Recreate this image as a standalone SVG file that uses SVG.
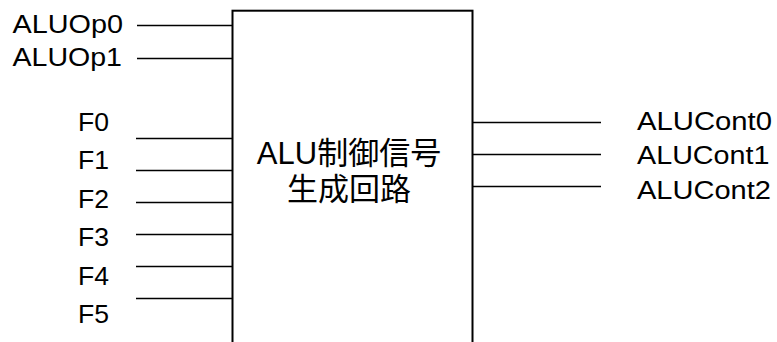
<svg xmlns="http://www.w3.org/2000/svg" width="777" height="342" viewBox="0 0 777 342">
  <style>
    .lbl { font-family: "Liberation Sans", "Noto Sans CJK JP", sans-serif; font-size: 25.5px; fill: #000; }
    .ctr { font-family: "Liberation Sans", "Noto Sans CJK JP", sans-serif; font-size: 31px; fill: #000; text-anchor: middle; }
    .wire { stroke: #000; stroke-width: 1.5; fill: none; }
    .box { stroke: #000; stroke-width: 2; fill: #fff; }
  </style>
  <rect width="777" height="342" fill="#fff"/>
  <g id="alu-control">
    <rect class="box" x="232.5" y="10.7" width="240" height="345"/>
    <text class="ctr" x="349" y="164">ALU制御信号</text>
    <text class="ctr" x="349" y="200">生成回路</text>
  </g>
  <g id="connectors">
    <line class="wire" x1="137" y1="25.5" x2="232.5" y2="25.5"/>
    <line class="wire" x1="137" y1="58.5" x2="232.5" y2="58.5"/>
    <line class="wire" x1="136" y1="138.5" x2="232.5" y2="138.5"/>
    <line class="wire" x1="136" y1="170.5" x2="232.5" y2="170.5"/>
    <line class="wire" x1="136" y1="202.5" x2="232.5" y2="202.5"/>
    <line class="wire" x1="136" y1="234.5" x2="232.5" y2="234.5"/>
    <line class="wire" x1="136" y1="266.5" x2="232.5" y2="266.5"/>
    <line class="wire" x1="136" y1="298.5" x2="232.5" y2="298.5"/>
    <line class="wire" x1="472.5" y1="122.5" x2="601" y2="122.5"/>
    <line class="wire" x1="472.5" y1="154.5" x2="601" y2="154.5"/>
    <line class="wire" x1="472.5" y1="186.5" x2="601" y2="186.5"/>
  </g>
  <g id="inputs">
    <text class="lbl" x="12.5" y="32.5" textLength="110.5" lengthAdjust="spacingAndGlyphs">ALUOp0</text>
    <text class="lbl" x="12.5" y="66" textLength="109.5" lengthAdjust="spacingAndGlyphs">ALUOp1</text>
    <text class="lbl" x="78" y="130.5" textLength="31" lengthAdjust="spacingAndGlyphs">F0</text>
    <text class="lbl" x="78" y="169" textLength="31" lengthAdjust="spacingAndGlyphs">F1</text>
    <text class="lbl" x="78" y="207.5" textLength="31" lengthAdjust="spacingAndGlyphs">F2</text>
    <text class="lbl" x="78" y="246" textLength="31" lengthAdjust="spacingAndGlyphs">F3</text>
    <text class="lbl" x="78" y="284.5" textLength="31" lengthAdjust="spacingAndGlyphs">F4</text>
    <text class="lbl" x="78" y="323" textLength="31" lengthAdjust="spacingAndGlyphs">F5</text>
  </g>
  <g id="outputs">
    <text class="lbl" x="637" y="129.5" textLength="135" lengthAdjust="spacingAndGlyphs">ALUCont0</text>
    <text class="lbl" x="637" y="164" textLength="132.5" lengthAdjust="spacingAndGlyphs">ALUCont1</text>
    <text class="lbl" x="637" y="198.5" textLength="134" lengthAdjust="spacingAndGlyphs">ALUCont2</text>
  </g>
</svg>
